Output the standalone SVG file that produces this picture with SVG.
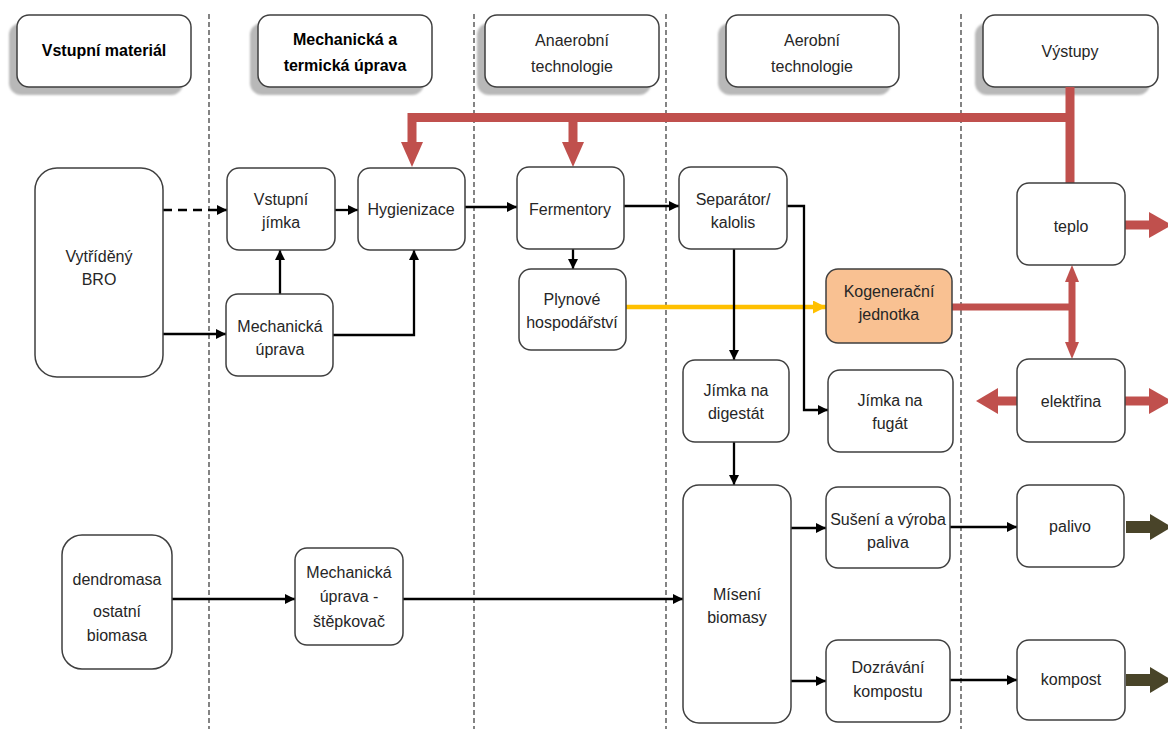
<svg xmlns="http://www.w3.org/2000/svg" width="1168" height="729" viewBox="0 0 1168 729">
<style>
.box{fill:#fff;stroke:#3f3f3f;stroke-width:1.5}
.hdr{fill:#fff;stroke:#3f3f3f;stroke-width:1.5}
.shadow{fill:#b8b8b8}
.t{font-family:"Liberation Sans",Arial,sans-serif;font-size:16px;fill:#262626;text-anchor:middle}
.b{font-weight:bold;fill:#000}
.lane{stroke:#333;stroke-width:1.2;stroke-dasharray:5,3;fill:none}
.c{fill:none;stroke:#000;stroke-width:2.3}
.red{fill:none;stroke:#C0504D;stroke-width:9}
.redt{fill:none;stroke:#C0504D;stroke-width:7}
.redf{fill:#C0504D}
.olive{fill:#494429}
</style>
<defs>
<filter id="blur" x="-10%" y="-10%" width="120%" height="130%"><feGaussianBlur stdDeviation="1.3"/></filter>
<marker id="ah" viewBox="0 0 10 10" refX="10" refY="5" markerUnits="userSpaceOnUse" markerWidth="11" markerHeight="10" orient="auto"><path d="M0,0 L10,5 L0,10 z" fill="#000"/></marker>
<marker id="ahy" viewBox="0 0 10 10" refX="10" refY="5" markerUnits="userSpaceOnUse" markerWidth="13" markerHeight="13" orient="auto"><path d="M0,0 L10,5 L0,10 z" fill="#FFC000"/></marker>
</defs>
<rect width="1168" height="729" fill="#fff"/>

<g id="lanes">
<line class="lane" x1="209" y1="14" x2="209" y2="729"/>
<line class="lane" x1="474" y1="14" x2="474" y2="729"/>
<line class="lane" x1="666" y1="14" x2="666" y2="729"/>
<line class="lane" x1="961" y1="14" x2="961" y2="729"/>
</g>

<g id="headers">
<g id="h-vstupni">
<rect class="shadow" x="9" y="23" width="174" height="72" rx="12" filter="url(#blur)"/>
<rect class="hdr" x="17" y="15" width="174" height="72" rx="12"/>
<text class="t b" x="104" y="56">Vstupní materiál</text>
</g>
<g id="h-mech">
<rect class="shadow" x="250" y="23" width="174" height="72" rx="12" filter="url(#blur)"/>
<rect class="hdr" x="258" y="15" width="174" height="72" rx="12"/>
<text class="t b" x="345" y="45">Mechanická a</text>
<text class="t b" x="345" y="71">termická úprava</text>
</g>
<g id="h-anaer">
<rect class="shadow" x="477" y="23" width="174" height="72" rx="12" filter="url(#blur)"/>
<rect class="hdr" x="485" y="15" width="174" height="72" rx="12"/>
<text class="t" x="572" y="46">Anaerobní</text>
<text class="t" x="572" y="72">technologie</text>
</g>
<g id="h-aer">
<rect class="shadow" x="718" y="23" width="173" height="72" rx="12" filter="url(#blur)"/>
<rect class="hdr" x="726" y="15" width="173" height="72" rx="12"/>
<text class="t" x="812" y="46">Aerobní</text>
<text class="t" x="812" y="72">technologie</text>
</g>
<g id="h-vystupy">
<rect class="shadow" x="975" y="23" width="175" height="72" rx="12" filter="url(#blur)"/>
<rect class="hdr" x="983" y="15" width="175" height="72" rx="12"/>
<text class="t" x="1070" y="57">Výstupy</text>
</g>
</g>

<g id="connectors">
<path class="red" d="M1070,87 V183"/>
<path class="red" d="M1074,117.5 H412 V145"/>
<polygon class="redf" points="401,142 423,142 412,167"/>
<path class="red" d="M573,117.5 V145"/>
<polygon class="redf" points="562,142 584,142 573,167"/>
<path class="redt" d="M952,307 H1072"/>
<path class="redt" d="M1072,280 V345"/>
<polygon class="redf" points="1072,265 1065,282 1079,282"/>
<polygon class="redf" points="1072,359 1065,342 1079,342"/>
<path class="red" d="M1125,225 H1151"/>
<polygon class="redf" points="1149,212 1149,238 1172,225"/>
<path class="red" d="M1125,401 H1151"/>
<polygon class="redf" points="1149,388 1149,414 1172,401"/>
<path class="red" d="M1017,401 H995"/>
<polygon class="redf" points="998,388 998,414 976,401"/>
<rect class="olive" x="1126" y="521" width="26" height="12"/>
<polygon class="olive" points="1150,514 1150,540 1172,527"/>
<rect class="olive" x="1126" y="674" width="26" height="12"/>
<polygon class="olive" points="1150,667 1150,693 1172,680"/>
<path d="M626,307 H826" fill="none" stroke="#FFC000" stroke-width="4.5" marker-end="url(#ahy)"/>
<path class="c" d="M163,210 H227" stroke-dasharray="9,6" marker-end="url(#ah)"/>
<path class="c" d="M163,334 H226" marker-end="url(#ah)"/>
<path class="c" d="M280,294 V250" marker-end="url(#ah)"/>
<path class="c" d="M335,210 H358" marker-end="url(#ah)"/>
<path class="c" d="M333,335 H414 V250" marker-end="url(#ah)"/>
<path class="c" d="M465,207 H517" marker-end="url(#ah)"/>
<path class="c" d="M573,249 V269" marker-end="url(#ah)"/>
<path class="c" d="M624,206 H679" marker-end="url(#ah)"/>
<path class="c" d="M787,206 H804 V410 H828" marker-end="url(#ah)"/>
<path class="c" d="M734,249 V360" marker-end="url(#ah)"/>
<path class="c" d="M734,442 V485" marker-end="url(#ah)"/>
<path class="c" d="M172,599 H295" marker-end="url(#ah)"/>
<path class="c" d="M403,599 H683" marker-end="url(#ah)"/>
<path class="c" d="M791,528 H826" marker-end="url(#ah)"/>
<path class="c" d="M791,681 H826" marker-end="url(#ah)"/>
<path class="c" d="M950,527 H1017" marker-end="url(#ah)"/>
<path class="c" d="M950,680 H1017" marker-end="url(#ah)"/>
</g>

<g id="n-bro"><rect class="box" x="35" y="168" width="128" height="209" rx="22"/>
<text class="t" x="99" y="262">Vytříděný</text><text class="t" x="99" y="285">BRO</text></g>
<g id="n-jimka"><rect class="box" x="227" y="168" width="108" height="82" rx="12"/>
<text class="t" x="281" y="205">Vstupní</text><text class="t" x="281" y="228">jímka</text></g>
<g id="n-hyg"><rect class="box" x="358" y="168" width="107" height="82" rx="12"/>
<text class="t" x="411" y="215">Hygienizace</text></g>
<g id="n-mech"><rect class="box" x="226" y="294" width="107" height="82" rx="12"/>
<text class="t" x="280" y="332">Mechanická</text><text class="t" x="280" y="355">úprava</text></g>
<g id="n-ferm"><rect class="box" x="517" y="167" width="107" height="82" rx="12"/>
<text class="t" x="570" y="215">Fermentory</text></g>
<g id="n-plyn"><rect class="box" x="519" y="269" width="107" height="81" rx="12"/>
<text class="t" x="572" y="305">Plynové</text><text class="t" x="572" y="328">hospodářství</text></g>
<g id="n-sep"><rect class="box" x="679" y="167" width="108" height="82" rx="12"/>
<text class="t" x="733" y="205">Separátor/</text><text class="t" x="733" y="228">kalolis</text></g>
<g id="n-kog"><rect x="826" y="269" width="126" height="74" rx="12" fill="#F9C192" stroke="#3f3f3f" stroke-width="1.5"/>
<text class="t" x="889" y="297">Kogenerační</text><text class="t" x="889" y="320">jednotka</text></g>
<g id="n-teplo"><rect class="box" x="1017" y="183" width="108" height="82" rx="12"/>
<text class="t" x="1071" y="232">teplo</text></g>
<g id="n-digest"><rect class="box" x="683" y="360" width="106" height="82" rx="12"/>
<text class="t" x="736" y="396">Jímka na</text><text class="t" x="736" y="419">digestát</text></g>
<g id="n-fugat"><rect class="box" x="828" y="370" width="125" height="82" rx="12"/>
<text class="t" x="890" y="406">Jímka na</text><text class="t" x="890" y="429">fugát</text></g>
<g id="n-elek"><rect class="box" x="1017" y="359" width="108" height="83" rx="12"/>
<text class="t" x="1071" y="407">elektřina</text></g>
<g id="n-miseni"><rect class="box" x="683" y="485" width="108" height="238" rx="16"/>
<text class="t" x="737" y="600">Mísení</text><text class="t" x="737" y="623">biomasy</text></g>
<g id="n-suseni"><rect class="box" x="826" y="487" width="124" height="81" rx="12"/>
<text class="t" x="888" y="525">Sušení a výroba</text><text class="t" x="888" y="548">paliva</text></g>
<g id="n-palivo"><rect class="box" x="1017" y="485" width="107" height="82" rx="12"/>
<text class="t" x="1070" y="532">palivo</text></g>
<g id="n-dozr"><rect class="box" x="826" y="640" width="124" height="82" rx="12"/>
<text class="t" x="888" y="673">Dozrávání</text><text class="t" x="888" y="697">kompostu</text></g>
<g id="n-kompost"><rect class="box" x="1017" y="640" width="108" height="80" rx="12"/>
<text class="t" x="1071" y="685">kompost</text></g>
<g id="n-dendro"><rect class="box" x="62" y="535" width="110" height="134" rx="20"/>
<text class="t" x="117" y="585">dendromasa</text><text class="t" x="117" y="617">ostatní</text><text class="t" x="117" y="641">biomasa</text></g>
<g id="n-stepk"><rect class="box" x="295" y="548" width="108" height="97" rx="12"/>
<text class="t" x="349" y="578">Mechanická</text><text class="t" x="349" y="602">úprava -</text><text class="t" x="349" y="627">štěpkovač</text></g>
</svg>
